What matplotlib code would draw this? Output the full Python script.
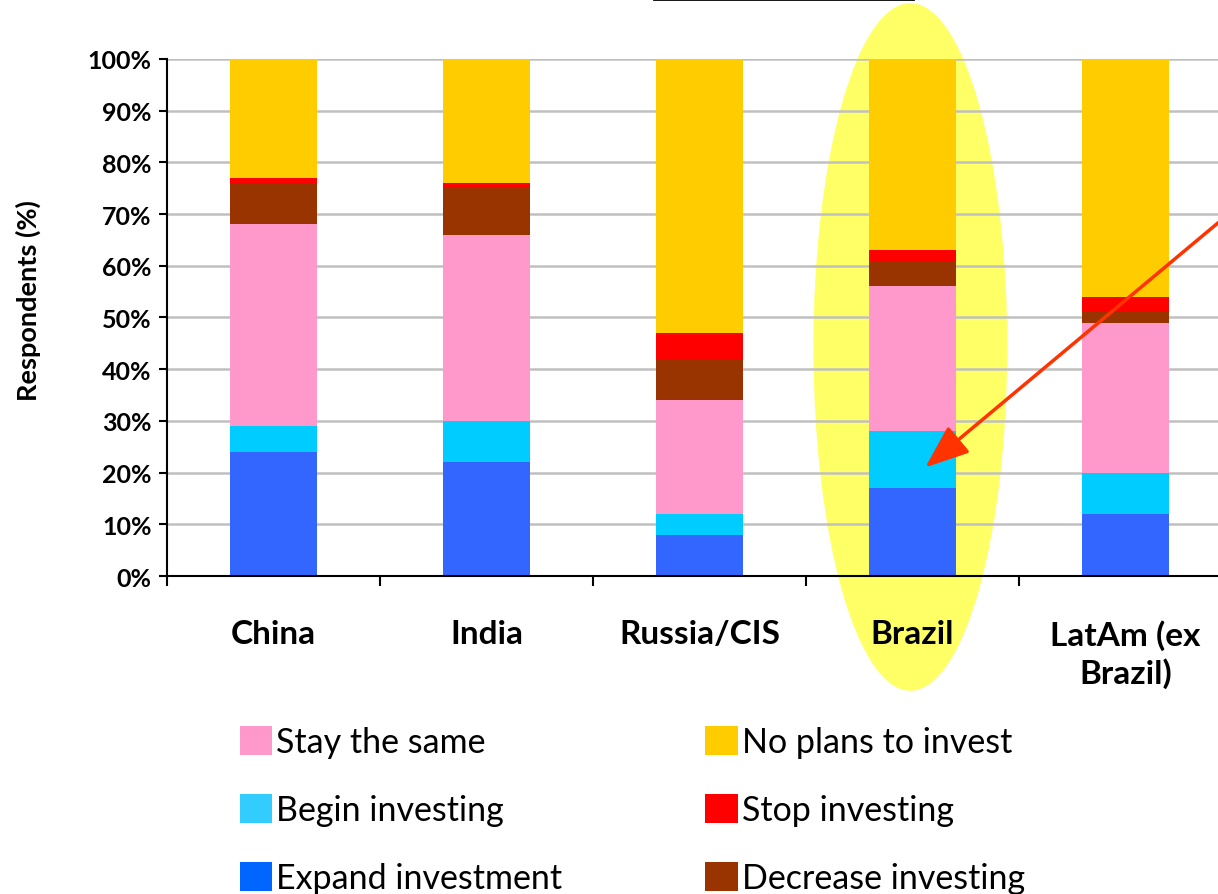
import matplotlib
matplotlib.use('Agg')
import matplotlib.pyplot as plt
from matplotlib.patches import Ellipse, Patch
from matplotlib.lines import Line2D
import numpy as np

plt.rcParams['font.family'] = ['Lato', 'DejaVu Sans']

regions = ['China', 'India', 'Russia/CIS', 'Brazil', 'LatAm (ex\nBrazil)']

# share of respondents per answer, stacked bottom to top
expand = [24, 22, 8, 17, 12]
begin = [5, 8, 4, 11, 8]
stay = [39, 36, 22, 28, 29]
decrease = [8, 9, 8, 5, 2]
stop = [1, 1, 5, 2, 3]
no_plans = [23, 24, 53, 37, 46]

yticks = [0, 10, 20, 30, 40, 50, 60, 70, 80, 90, 100]
ytick_labels = ['%d%%' % v for v in yticks]

series = [
  ('Expand investment', expand, '#3366FF', '#0066FF'),
  ('Begin investing', begin, '#00CCFF', '#33CCFF'),
  ('Stay the same', stay, '#FF99CC', '#FF99CC'),
  ('Decrease investing', decrease, '#993300', '#993300'),
  ('Stop investing', stop, '#FF0000', '#FF0000'),
  ('No plans to invest', no_plans, '#FFCC00', '#FFCC00'),
]

def main():
  fig = plt.figure(figsize=(12.18, 8.95), dpi=100)
  ax = fig.add_axes([0.1371, 0.3553, 0.8744, 0.5777])

  x = np.arange(len(regions))
  bottom = np.zeros(len(regions))
  for name, vals, col, _ in series:
    ax.bar(x, vals, bottom=bottom, width=0.41, color=col, zorder=2)
    bottom += np.array(vals)

  # highlight around Brazil
  ax.add_patch(Ellipse((2.99, 44.3), 0.91, 133, facecolor='#FFFF66',
                       edgecolor='none', zorder=0.2, clip_on=False))

  ax.annotate('', xy=(3.06, 21), xytext=(4.6, 74),
              arrowprops=dict(arrowstyle='-|>,head_length=0.9,head_width=0.35',
                              color='#FF3300', lw=2.5,
                              mutation_scale=30, shrinkA=0, shrinkB=0),
              annotation_clip=False, zorder=5)

  ax.set_xlim(-0.5, len(regions) - 0.5)
  ax.set_ylim(0, 100)
  ax.set_axisbelow(True)
  ax.yaxis.grid(True, color='#C0C0C0', lw=1.8)

  ax.set_yticks(yticks)
  ax.set_yticklabels(ytick_labels, fontsize=18, fontweight='bold')
  ax.tick_params(axis='y', length=6, width=1.5, pad=5)

  ax.set_xticks(x)
  ax.set_xticklabels(regions, fontsize=24, fontweight='bold', linespacing=1.3)
  ax.tick_params(axis='x', which='major', length=0, pad=31)
  ax.set_xticks(np.arange(-0.5, len(regions)), minor=True)
  ax.tick_params(axis='x', which='minor', length=7, width=1.5)

  ax.spines['top'].set_visible(False)
  ax.spines['right'].set_visible(False)
  ax.spines['left'].set_linewidth(1.5)
  ax.spines['bottom'].set_linewidth(1.5)

  ax.set_ylabel('Respondents (%)', fontsize=19.5, fontweight='bold')
  ax.yaxis.set_label_coords(-0.118, 0.535)

  # legend: two columns, three rows
  order = [2, 1, 0, 5, 4, 3]
  handles = [Patch(facecolor=series[i][3], edgecolor='none') for i in order]
  labels = [series[i][0] for i in order]
  fig.legend(handles, labels, ncol=2, loc='upper left',
             bbox_to_anchor=(0.197, 0.188), frameon=False, fontsize=24.5,
             handlelength=0.95, handleheight=0.95, handletextpad=0.12,
             labelspacing=1.05, columnspacing=4.2, borderaxespad=0,
             borderpad=0)

  # underline left over from the heading
  fig.add_artist(Line2D([654 / 1218, 913 / 1218], [0.9995, 0.9995],
                        color='black', lw=2, transform=fig.transFigure))

  fig.savefig('out.png', dpi=100)

if __name__ == '__main__':
  main()
